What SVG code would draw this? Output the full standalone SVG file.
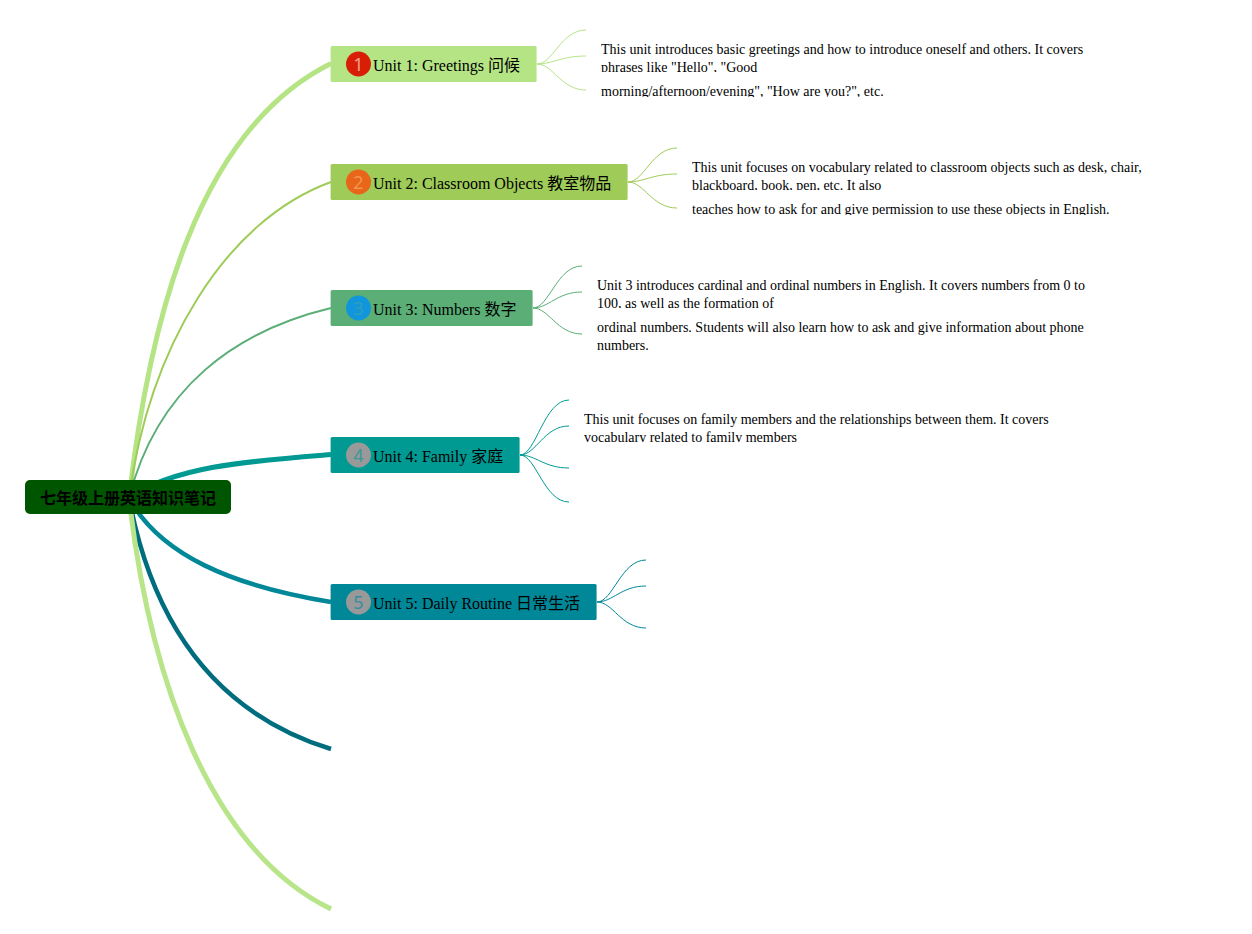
<svg xmlns="http://www.w3.org/2000/svg" width="1252" height="934" viewBox="0 0 1252 934">
<style>
text{font-family:"Liberation Serif","Noto Sans CJK SC",serif;fill:#000}
.t{font-size:16px}
.d{font-size:14px}
.n{font-family:"Noto Sans",sans-serif;font-size:18px;text-anchor:middle}
.r{font-family:"Noto Sans CJK SC","Noto Sans",sans-serif;font-size:16px;font-weight:bold;text-anchor:middle}
path{fill:none;stroke-linecap:butt}
.c{stroke-width:1}
</style>
<defs>
<clipPath id="c1a"><rect x="601" y="40" width="500" height="32"/></clipPath>
<clipPath id="c1b"><rect x="601" y="82" width="500" height="15"/></clipPath>
<clipPath id="c2a"><rect x="692" y="158" width="500" height="32"/></clipPath>
<clipPath id="c2b"><rect x="692" y="200" width="500" height="15"/></clipPath>
<clipPath id="c3a"><rect x="597" y="276" width="500" height="32"/></clipPath>
<clipPath id="c4a"><rect x="584" y="410" width="500" height="32"/></clipPath>
</defs>
<g id="connectors">
<path d="M129 498C149 326 195 131 331 63.500" stroke="#b5e485" stroke-width="5"/>
<path d="M129 498C149 349 224 221 331 182" stroke="#9fcb58" stroke-width="2"/>
<path d="M129 498C157 388 235 331 331 308" stroke="#5aae76" stroke-width="2"/>
<path d="M129 498C175 466 250 461 331 454.500" stroke="#009a93" stroke-width="5"/>
<path d="M129 498C160 555 232 586 331 602" stroke="#008899" stroke-width="4.500"/>
<path d="M129 498C150 610 205 710 331 749" stroke="#006d7f" stroke-width="4.500"/>
<path d="M129 498C150 680 210 850 331 909" stroke="#b8e58a" stroke-width="5"/>
<g stroke="#b5e485">
<path class="c" d="M537 64C553 64 561 30 586 30"/>
<path class="c" d="M537 64C553 64 561 56 586 56"/>
<path class="c" d="M537 64C553 64 561 90 586 90"/>
</g>
<g stroke="#9fcb58">
<path class="c" d="M628 182C644 182 652 148 677 148"/>
<path class="c" d="M628 182C644 182 652 174 677 174"/>
<path class="c" d="M628 182C644 182 652 208 677 208"/>
</g>
<g stroke="#5aae76">
<path class="c" d="M533 308C549 308 557 266 582 266"/>
<path class="c" d="M533 308C549 308 557 292 582 292"/>
<path class="c" d="M533 308C549 308 557 334 582 334"/>
</g>
<g stroke="#009a93">
<path class="c" d="M520 455C536 455 544 400 569 400"/>
<path class="c" d="M520 455C536 455 544 426 569 426"/>
<path class="c" d="M520 455C536 455 544 468 569 468"/>
<path class="c" d="M520 455C536 455 544 502 569 502"/>
</g>
<g stroke="#008899">
<path class="c" d="M597 602C613 602 621 560 646 560"/>
<path class="c" d="M597 602C613 602 621 586 646 586"/>
<path class="c" d="M597 602C613 602 621 628 646 628"/>
</g>
</g>
<g id="root">
<rect x="25" y="480" width="206" height="34" rx="5" fill="#005500"/>
<text class="r" x="128" y="503.500">七年级上册英语知识笔记</text>
</g>
<g id="unit1">
<rect x="330.600" y="46" width="206" height="36" rx="1.500" fill="#b5e485"/>
<circle cx="358.500" cy="64" r="12.500" fill="#d81e06"/>
<text class="n" x="358.500" y="70.500" style="fill:#f3a08f">1</text>
<text class="t" x="373" y="71">Unit 1: Greetings 问候</text>
<g clip-path="url(#c1a)">
<text class="d" x="601" y="54">This unit introduces basic greetings and how to introduce oneself and others. It covers</text>
<text class="d" x="601" y="72">phrases like "Hello", "Good</text>
</g>
<text class="d" x="601" y="96" clip-path="url(#c1b)">morning/afternoon/evening", "How are you?", etc.</text>
</g>
<g id="unit2">
<rect x="330.600" y="164" width="297" height="36" rx="1.500" fill="#9fcb58"/>
<circle cx="358.500" cy="182" r="12.500" fill="#e8651a"/>
<text class="n" x="358.500" y="188.500" style="fill:#f0964f">2</text>
<text class="t" x="373" y="189">Unit 2: Classroom Objects 教室物品</text>
<g clip-path="url(#c2a)">
<text class="d" x="692" y="172">This unit focuses on vocabulary related to classroom objects such as desk, chair,</text>
<text class="d" x="692" y="190">blackboard, book, pen, etc. It also</text>
</g>
<text class="d" x="692" y="214" clip-path="url(#c2b)">teaches how to ask for and give permission to use these objects in English.</text>
</g>
<g id="unit3">
<rect x="330.600" y="290" width="202" height="36" rx="1.500" fill="#5aae76"/>
<circle cx="358.500" cy="308" r="12.500" fill="#1296db"/>
<text class="n" x="358.500" y="314.500" style="fill:#2fa0b8">3</text>
<text class="t" x="373" y="315">Unit 3: Numbers 数字</text>
<g clip-path="url(#c3a)">
<text class="d" x="597" y="290">Unit 3 introduces cardinal and ordinal numbers in English. It covers numbers from 0 to</text>
<text class="d" x="597" y="308">100, as well as the formation of</text>
</g>
<text class="d" x="597" y="332">ordinal numbers. Students will also learn how to ask and give information about phone</text>
<text class="d" x="597" y="350">numbers.</text>
</g>
<g id="unit4">
<rect x="330.600" y="437" width="189" height="36" rx="1.500" fill="#009a93"/>
<circle cx="358.500" cy="455" r="12.500" fill="#999"/>
<text class="n" x="358.500" y="461.500" style="fill:#3a9a98">4</text>
<text class="t" x="373" y="462">Unit 4: Family 家庭</text>
<g clip-path="url(#c4a)">
<text class="d" x="584" y="424">This unit focuses on family members and the relationships between them. It covers</text>
<text class="d" x="584" y="442">vocabulary related to family members</text>
</g>
</g>
<g id="unit5">
<rect x="330.600" y="584" width="266" height="36" rx="1.500" fill="#008899"/>
<circle cx="358.500" cy="602" r="12.500" fill="#999"/>
<text class="n" x="358.500" y="608.500" style="fill:#3a8c9c">5</text>
<text class="t" x="373" y="609">Unit 5: Daily Routine 日常生活</text>
</g>
</svg>
